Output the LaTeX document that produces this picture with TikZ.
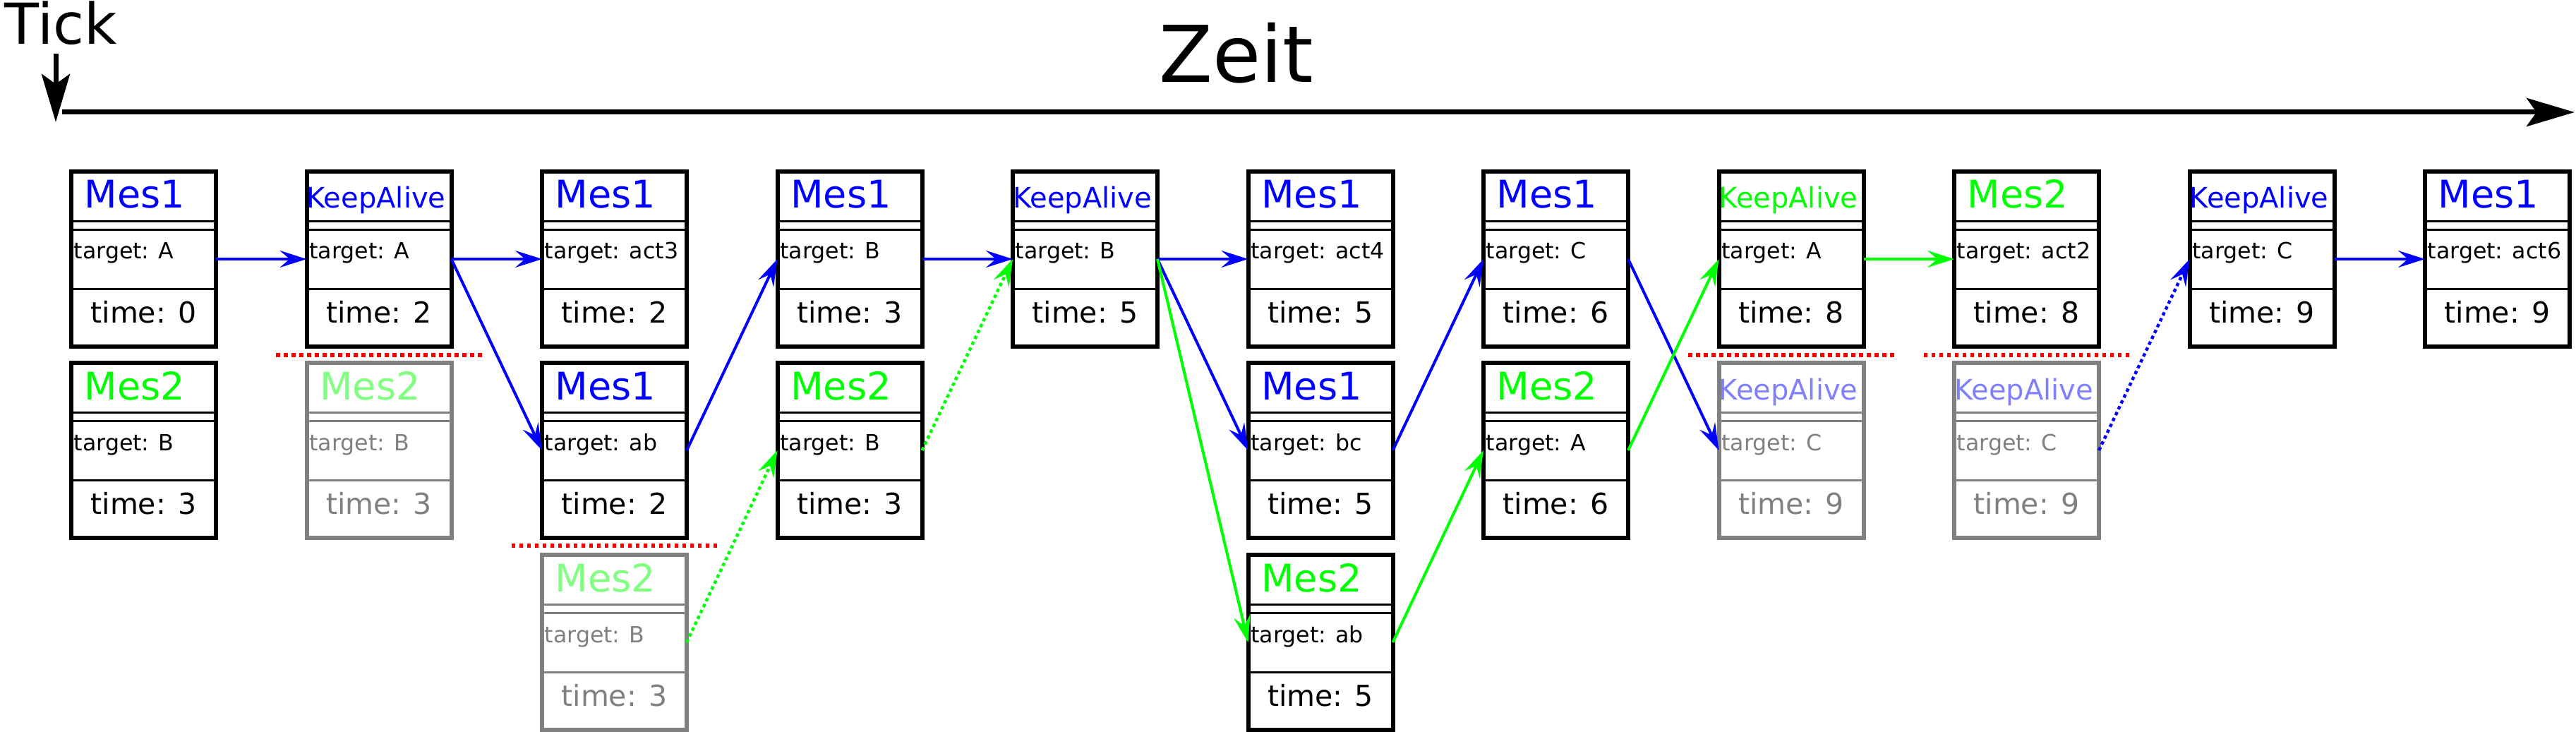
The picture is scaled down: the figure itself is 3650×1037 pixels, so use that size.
\documentclass[tikz,border=0pt]{standalone}
\usepackage{fontspec}
\setmainfont{DejaVu Sans}
\usetikzlibrary{arrows.meta}
\definecolor{mblue}{RGB}{0,0,255}
\definecolor{mgreen}{RGB}{0,255,0}
\definecolor{lgreen}{RGB}{128,255,128}
\definecolor{lblue}{RGB}{128,128,255}
\definecolor{mgray}{RGB}{128,128,128}
\definecolor{mred}{RGB}{255,0,0}
\tikzset{
 frame/.style={draw=#1, line width=1.5pt, inner sep=0pt, outer sep=0pt, minimum width=51.25pt, minimum height=62pt},
 sepline/.style={draw=#1, line width=0.75pt},
 titletxt/.style={anchor=base west, inner sep=0pt, xshift=5.25pt, font=\fontsize{13.5pt}{14pt}\selectfont},
 katxt/.style={anchor=base west, inner sep=0pt, xshift=0.6pt, font=\fontsize{10pt}{11pt}\selectfont},
 tgttxt/.style={anchor=base west, inner sep=0pt, font=\fontsize{7.9pt}{9pt}\selectfont},
 timetxt/.style={anchor=base, inner sep=0pt, font=\fontsize{10.25pt}{11pt}\selectfont},
 link/.style={line width=1pt, -{Stealth[length=9.5pt,width=6pt,inset=3.5pt]}},
 dotlink/.style={link, line width=1.1pt, dash pattern=on 1.2pt off 1.1pt},
 cutline/.style={draw=mred, line width=1.375pt, dash pattern=on 1.375pt off 1.375pt},
 axisline/.style={line width=1.75pt, -{Stealth[length=17pt,width=10pt,inset=3.5pt]}},
}
\newcommand\msgbox[9]{%
 \pgfmathsetmacro\bxL{98+333.5*#2}%
 \pgfmathsetmacro\bxT{#3}%
 \node[frame=#9] (#1) at (\bxL+105.5,\bxT+127) {};
 \draw[sepline=#9] (\bxL+3,\bxT+73) -- (\bxL+208,\bxT+73);
 \draw[sepline=#9] (\bxL+3,\bxT+85) -- (\bxL+208,\bxT+85);
 \draw[sepline=#9] (\bxL+3,\bxT+169) -- (\bxL+208,\bxT+169);
 \node[#6, text=#5] (#1-title) at (\bxL,\bxT+55) {#4};
 \node[tgttxt, text=#9] (#1-tgt) at (\bxL+6,\bxT+127) {target: #7};
 \node[timetxt, text=#9] (#1-time) at (\bxL+105.5,\bxT+217) {time: #8};
}
\begin{document}
\begin{tikzpicture}[x=0.25pt,y=-0.25pt]
\useasboundingbox (0,0) rectangle (3650,1037);
% header
\node[anchor=base west, inner sep=0pt, font=\fontsize{20pt}{22pt}\selectfont] (tick) at (6,63) {Tick};
\node[anchor=base, inner sep=0pt, font=\fontsize{27.75pt}{30pt}\selectfont] (zeit) at (1752,117) {Zeit};
\coordinate (tk0) at (79,76);
\coordinate (tk1) at (79,173);
\coordinate (tl0) at (88,159);
\coordinate (tl1) at (3648,159);
\draw[axisline] (tl0) -- (tl1);
\draw[axisline] (tk0) -- (tk1);
% boxes
\msgbox{a0}{0}{240}{Mes1}{mblue}{titletxt}{A}{0}{black}
\msgbox{b0}{0}{511}{Mes2}{mgreen}{titletxt}{B}{3}{black}
\msgbox{a1}{1}{240}{KeepAlive}{mblue}{katxt}{A}{2}{black}
\msgbox{b1}{1}{511}{Mes2}{lgreen}{titletxt}{B}{3}{mgray}
\msgbox{a2}{2}{240}{Mes1}{mblue}{titletxt}{act3}{2}{black}
\msgbox{b2}{2}{511}{Mes1}{mblue}{titletxt}{ab}{2}{black}
\msgbox{c2}{2}{783}{Mes2}{lgreen}{titletxt}{B}{3}{mgray}
\msgbox{a3}{3}{240}{Mes1}{mblue}{titletxt}{B}{3}{black}
\msgbox{b3}{3}{511}{Mes2}{mgreen}{titletxt}{B}{3}{black}
\msgbox{a4}{4}{240}{KeepAlive}{mblue}{katxt}{B}{5}{black}
\msgbox{a5}{5}{240}{Mes1}{mblue}{titletxt}{act4}{5}{black}
\msgbox{b5}{5}{511}{Mes1}{mblue}{titletxt}{bc}{5}{black}
\msgbox{c5}{5}{783}{Mes2}{mgreen}{titletxt}{ab}{5}{black}
\msgbox{a6}{6}{240}{Mes1}{mblue}{titletxt}{C}{6}{black}
\msgbox{b6}{6}{511}{Mes2}{mgreen}{titletxt}{A}{6}{black}
\msgbox{a7}{7}{240}{KeepAlive}{mgreen}{katxt}{A}{8}{black}
\msgbox{b7}{7}{511}{KeepAlive}{lblue}{katxt}{C}{9}{mgray}
\msgbox{a8}{8}{240}{Mes2}{mgreen}{titletxt}{act2}{8}{black}
\msgbox{b8}{8}{511}{KeepAlive}{lblue}{katxt}{C}{9}{mgray}
\msgbox{a9}{9}{240}{KeepAlive}{mblue}{katxt}{C}{9}{black}
\msgbox{a10}{10}{240}{Mes1}{mblue}{titletxt}{act6}{9}{black}
% red cut lines
\draw[cutline] (391,503) -- (683,503);
\draw[cutline] (724.5,773) -- (1016.5,773);
\draw[cutline] (2392,503) -- (2684,503);
\draw[cutline] (2725.5,503) -- (3017.5,503);
% connectors
\draw[link, mblue] (a0.east) -- (a1.west);
\draw[link, mblue] (a1.east) -- (a2.west);
\draw[link, mblue] (a1.east) -- (b2.west);
\draw[link, mblue] (b2.east) -- (a3.west);
\draw[dotlink, mgreen] (c2.east) -- (b3.west);
\draw[link, mblue] (a3.east) -- (a4.west);
\draw[dotlink, mgreen] (b3.east) -- (a4.west);
\draw[link, mblue] (a4.east) -- (a5.west);
\draw[link, mblue] (a4.east) -- (b5.west);
\draw[link, mgreen] (a4.east) -- (c5.west);
\draw[link, mblue] (b5.east) -- (a6.west);
\draw[link, mgreen] (c5.east) -- (b6.west);
\draw[link, mblue] (a6.east) -- (b7.west);
\draw[link, mgreen] (b6.east) -- (a7.west);
\draw[link, mgreen] (a7.east) -- (a8.west);
\draw[dotlink, mblue] (b8.east) -- (a9.west);
\draw[link, mblue] (a9.east) -- (a10.west);
\end{tikzpicture}
\end{document}
